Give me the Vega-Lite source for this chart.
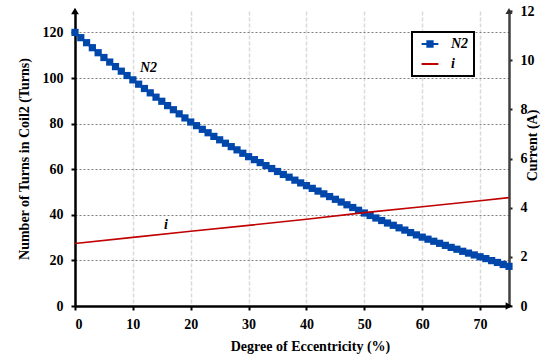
{
  "$schema": "https://vega.github.io/schema/vega-lite/v6.json",
  "width": 434,
  "height": 295,
  "autosize": "none",
  "padding": {"left": 75, "top": 11, "right": 50, "bottom": 54},
  "background": "white",
  "config": {
    "view": {"stroke": null},
    "font": "Times New Roman, Liberation Serif, serif",
    "axis": {
      "labelFont": "Times New Roman, Liberation Serif, serif",
      "titleFont": "Times New Roman, Liberation Serif, serif"
    },
    "legend": {
      "labelFont": "Times New Roman, Liberation Serif, serif"
    }
  },
  "datasets": {
    "n2": [
      {"x": 0, "turns": 120, "series": "N2"}, {"x": 1, "turns": 117.7, "series": "N2"}, {"x": 2, "turns": 115.5, "series": "N2"}, {"x": 3, "turns": 113.3, "series": "N2"}, {"x": 4, "turns": 111.1, "series": "N2"}, {"x": 5, "turns": 109.0, "series": "N2"}, {"x": 6, "turns": 107.0, "series": "N2"}, {"x": 7, "turns": 105.0, "series": "N2"}, {"x": 8, "turns": 103.0, "series": "N2"}, {"x": 9, "turns": 101.1, "series": "N2"},
      {"x": 10, "turns": 99.2, "series": "N2"}, {"x": 11, "turns": 97.3, "series": "N2"}, {"x": 12, "turns": 95.4, "series": "N2"}, {"x": 13, "turns": 93.5, "series": "N2"}, {"x": 14, "turns": 91.6, "series": "N2"}, {"x": 15, "turns": 89.8, "series": "N2"}, {"x": 16, "turns": 87.9, "series": "N2"}, {"x": 17, "turns": 86.1, "series": "N2"}, {"x": 18, "turns": 84.3, "series": "N2"}, {"x": 19, "turns": 82.5, "series": "N2"},
      {"x": 20, "turns": 80.7, "series": "N2"}, {"x": 21, "turns": 79.1, "series": "N2"}, {"x": 22, "turns": 77.5, "series": "N2"}, {"x": 23, "turns": 76.0, "series": "N2"}, {"x": 24, "turns": 74.4, "series": "N2"}, {"x": 25, "turns": 72.9, "series": "N2"}, {"x": 26, "turns": 71.4, "series": "N2"}, {"x": 27, "turns": 69.9, "series": "N2"}, {"x": 28, "turns": 68.5, "series": "N2"}, {"x": 29, "turns": 67.0, "series": "N2"},
      {"x": 30, "turns": 65.5, "series": "N2"}, {"x": 31, "turns": 64.2, "series": "N2"}, {"x": 32, "turns": 62.9, "series": "N2"}, {"x": 33, "turns": 61.6, "series": "N2"}, {"x": 34, "turns": 60.3, "series": "N2"}, {"x": 35, "turns": 59.0, "series": "N2"}, {"x": 36, "turns": 57.7, "series": "N2"}, {"x": 37, "turns": 56.5, "series": "N2"}, {"x": 38, "turns": 55.2, "series": "N2"}, {"x": 39, "turns": 54.0, "series": "N2"},
      {"x": 40, "turns": 52.8, "series": "N2"}, {"x": 41, "turns": 51.6, "series": "N2"}, {"x": 42, "turns": 50.4, "series": "N2"}, {"x": 43, "turns": 49.2, "series": "N2"}, {"x": 44, "turns": 48.0, "series": "N2"}, {"x": 45, "turns": 46.8, "series": "N2"}, {"x": 46, "turns": 45.6, "series": "N2"}, {"x": 47, "turns": 44.4, "series": "N2"}, {"x": 48, "turns": 43.2, "series": "N2"}, {"x": 49, "turns": 42.0, "series": "N2"},
      {"x": 50, "turns": 40.8, "series": "N2"}, {"x": 51, "turns": 39.7, "series": "N2"}, {"x": 52, "turns": 38.6, "series": "N2"}, {"x": 53, "turns": 37.5, "series": "N2"}, {"x": 54, "turns": 36.4, "series": "N2"}, {"x": 55, "turns": 35.4, "series": "N2"}, {"x": 56, "turns": 34.3, "series": "N2"}, {"x": 57, "turns": 33.3, "series": "N2"}, {"x": 58, "turns": 32.2, "series": "N2"}, {"x": 59, "turns": 31.2, "series": "N2"},
      {"x": 60, "turns": 30.2, "series": "N2"}, {"x": 61, "turns": 29.3, "series": "N2"}, {"x": 62, "turns": 28.4, "series": "N2"}, {"x": 63, "turns": 27.5, "series": "N2"}, {"x": 64, "turns": 26.6, "series": "N2"}, {"x": 65, "turns": 25.7, "series": "N2"}, {"x": 66, "turns": 24.9, "series": "N2"}, {"x": 67, "turns": 24.0, "series": "N2"}, {"x": 68, "turns": 23.2, "series": "N2"}, {"x": 69, "turns": 22.4, "series": "N2"},
      {"x": 70, "turns": 21.6, "series": "N2"}, {"x": 71, "turns": 20.8, "series": "N2"}, {"x": 72, "turns": 19.9, "series": "N2"}, {"x": 73, "turns": 19.1, "series": "N2"}, {"x": 74, "turns": 18.2, "series": "N2"}, {"x": 75, "turns": 17.4, "series": "N2"}
    ],
    "cur": [
      {"x": 0, "current": 2.54, "series": "i"}, {"x": 10, "current": 2.79, "series": "i"}, {"x": 20, "current": 3.04, "series": "i"}, {"x": 30, "current": 3.28, "series": "i"}, {"x": 40, "current": 3.53, "series": "i"}, {"x": 50, "current": 3.8, "series": "i"}, {"x": 60, "current": 4.04, "series": "i"}, {"x": 70, "current": 4.28, "series": "i"}, {"x": 75, "current": 4.41, "series": "i"}
    ],
    "notes": [
      {"x": 12.7, "y": 104.4, "label": "N2"},
      {"x": 15.7, "y": 35.4, "label": "i"}
    ]
  },
  "layer": [
    {
      "layer": [
        {
          "data": {"name": "n2"},
          "mark": {"type": "line", "strokeWidth": 2.5, "point": {"shape": "square", "size": 52, "filled": true, "opacity": 1}},
          "encoding": {
            "x": {
              "field": "x", "type": "quantitative",
              "title": "Degree of Eccentricity (%)",
              "scale": {"domain": [0, 75], "nice": false, "zero": false},
              "axis": {
                "values": [0, 10, 20, 30, 40, 50, 60, 70],
                "grid": true, "gridColor": "#d9d9d9", "gridDash": [4, 2], "gridWidth": 1.5,
                "domainColor": "black", "domainWidth": 2.5,
                "tickColor": "black", "tickWidth": 2, "tickSize": 4,
                "labelFont": "Times New Roman, Liberation Serif, serif", "labelFontSize": 14, "labelFontWeight": "bold", "labelColor": "black",
                "titleFont": "Times New Roman, Liberation Serif, serif", "titleFontSize": 14, "titleFontWeight": "bold", "titleColor": "black",
                "labelPadding": 7, "titlePadding": 8, "titleX": 235
              }
            },
            "y": {
              "field": "turns", "type": "quantitative",
              "title": "Number of Turns in Coil2 (Turns)",
              "scale": {"domain": [0, 129.4], "nice": false},
              "axis": {
                "values": [0, 20, 40, 60, 80, 100, 120],
                "grid": true, "gridColor": "#808080", "gridDash": [2, 2], "gridWidth": 1,
                "domainColor": "black", "domainWidth": 2.5,
                "tickColor": "black", "tickWidth": 2, "tickSize": 4,
                "labelFont": "Times New Roman, Liberation Serif, serif", "labelFontSize": 14, "labelFontWeight": "bold", "labelColor": "black",
                "titleFont": "Times New Roman, Liberation Serif, serif", "titleFontSize": 14, "titleFontWeight": "bold", "titleColor": "black",
                "labelPadding": 8, "titlePadding": 11
              }
            },
            "color": {
              "field": "series", "type": "nominal",
              "scale": {"domain": ["N2", "i"], "range": ["#0047AB", "#C00000"]},
              "legend": {
                "orient": "none", "legendX": 337, "legendY": 21, "title": null,
                "strokeColor": "black", "fillColor": "white", "padding": 5,
                "clipHeight": 14, "rowPadding": 6, "symbolSize": 576,
                "labelFont": "Times New Roman, Liberation Serif, serif", "labelFontSize": 14, "labelFontWeight": "bold",
                "labelFontStyle": "italic", "labelColor": "black", "labelOffset": 8,
                "symbolStrokeWidth": 2,
                "encode": {
                  "legend": {"update": {"strokeWidth": {"value": 2}}},
                  "symbols": {"update": {
                    "shape": {"signal": "datum.value === 'N2' ? 'M-0.7,0H0.7M-0.22,-0.22H0.22V0.22H-0.22Z' : 'M-0.7,0H0.7'"},
                    "fill": {"signal": "datum.value === 'N2' ? '#0047AB' : 'transparent'"},
                    "stroke": {"signal": "datum.value === 'N2' ? '#0047AB' : '#C00000'"},
                    "strokeWidth": {"value": 2}
                  }}
                }
              }
            }
          }
        },
        {
          "data": {"name": "notes"},
          "mark": {"type": "text", "font": "Times New Roman, Liberation Serif, serif", "fontSize": 14, "fontWeight": "bold", "fontStyle": "italic", "color": "black"},
          "encoding": {
            "x": {"field": "x", "type": "quantitative", "title": "Degree of Eccentricity (%)"},
            "y": {"field": "y", "type": "quantitative", "title": "Number of Turns in Coil2 (Turns)"},
            "text": {"field": "label"}
          }
        },
        {
          "data": {"values": [{}]},
          "mark": {"type": "point", "shape": "triangle-up", "size": 60, "filled": true, "color": "black", "opacity": 1},
          "encoding": {
            "x": {"datum": 0, "type": "quantitative", "title": "Degree of Eccentricity (%)"},
            "y": {"datum": 129.4, "type": "quantitative", "title": "Number of Turns in Coil2 (Turns)"}
          }
        },
        {
          "data": {"values": [{}]},
          "mark": {"type": "point", "shape": "triangle-up", "size": 50, "filled": true, "color": "#303030", "opacity": 1},
          "encoding": {
            "x": {"datum": 75, "type": "quantitative", "title": "Degree of Eccentricity (%)"},
            "y": {"datum": 129.4, "type": "quantitative", "title": "Number of Turns in Coil2 (Turns)"}
          }
        },
        {
          "data": {"values": [{}]},
          "mark": {"type": "point", "shape": "triangle-right", "size": 60, "filled": true, "color": "black", "opacity": 1},
          "encoding": {
            "x": {"datum": 75, "type": "quantitative", "title": "Degree of Eccentricity (%)"},
            "y": {"datum": 0, "type": "quantitative", "title": "Number of Turns in Coil2 (Turns)"}
          }
        }
      ]
    },
    {
      "data": {"name": "cur"},
      "mark": {"type": "line", "strokeWidth": 1.6},
      "encoding": {
        "x": {"field": "x", "type": "quantitative", "title": "Degree of Eccentricity (%)"},
        "y": {
          "field": "current", "type": "quantitative",
          "title": "Current (A)",
          "scale": {"domain": [0, 12], "nice": false},
          "axis": {
            "orient": "right",
            "values": [0, 2, 4, 6, 8, 10, 12],
            "grid": false, "domainColor": "#404040", "domainWidth": 2.5,
            "tickColor": "#202020", "tickWidth": 2, "tickSize": 3,
            "labelFont": "Times New Roman, Liberation Serif, serif", "labelFontSize": 14, "labelFontWeight": "bold", "labelColor": "black",
            "titleFont": "Times New Roman, Liberation Serif, serif", "titleFontSize": 14, "titleFontWeight": "bold", "titleColor": "black",
            "labelPadding": 8, "titleAngle": -90, "titlePadding": 5, "titleY": 134
          }
        },
        "color": {"field": "series", "type": "nominal"}
      }
    }
  ],
  "resolve": {"scale": {"y": "independent"}}
}
